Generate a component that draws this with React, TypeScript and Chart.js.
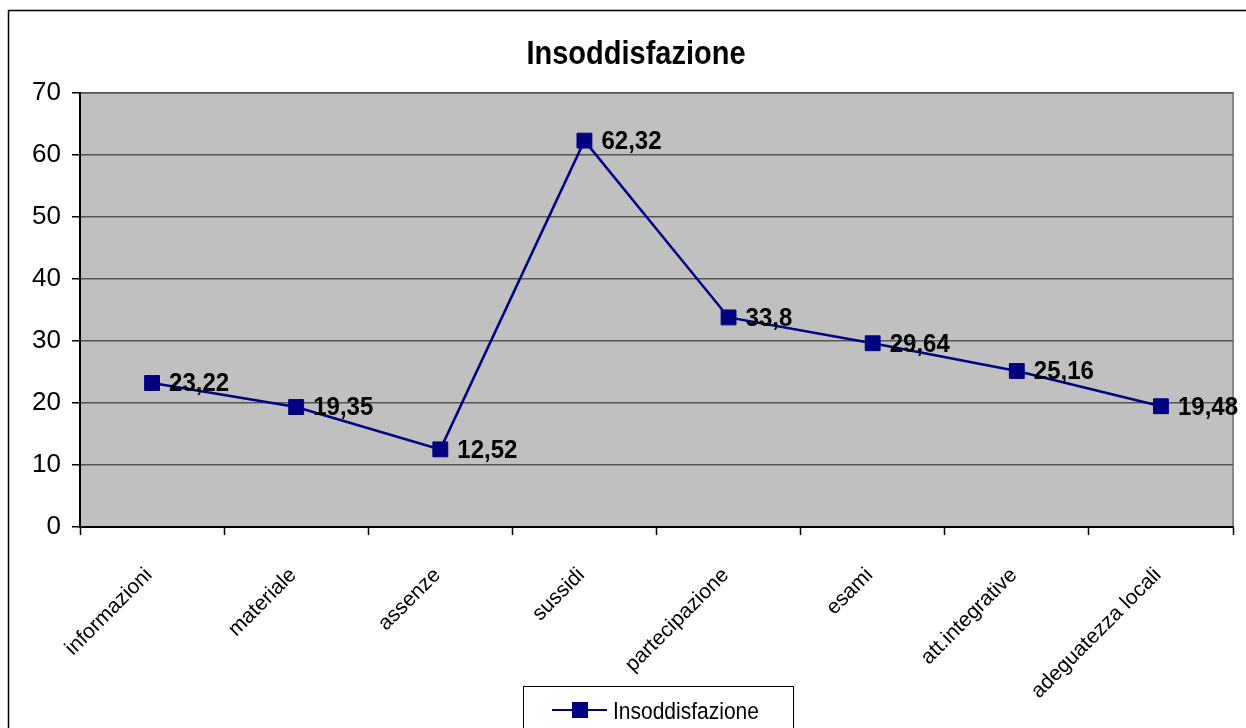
import React, { useEffect, useRef } from "react";
import { Chart, registerables } from "chart.js";

Chart.register(...registerables);

const TITLE = "Insoddisfazione";
const SERIES_LABEL = "Insoddisfazione";
const categories = [
  "informazioni",
  "materiale",
  "assenze",
  "sussidi",
  "partecipazione",
  "esami",
  "att.integrative",
  "adeguatezza locali",
];
const values = [23.22, 19.35, 12.52, 62.32, 33.8, 29.64, 25.16, 19.48];
const yTicks = [0, 10, 20, 30, 40, 50, 60, 70];

const FONT = "'Liberation Sans', Arial, sans-serif";
const NAVY = "#000080";

const W = 1246;
const H = 728;

export default function App() {
  const ref = useRef<HTMLCanvasElement | null>(null);

  useEffect(() => {
    const canvas = ref.current;
    if (!canvas) return;

    const bgPlugin = {
      id: "plotBg",
      beforeDraw(chart: any) {
        const { ctx, chartArea } = chart;
        ctx.save();
        ctx.fillStyle = "#ffffff";
        ctx.fillRect(0, 0, chart.width, chart.height);
        ctx.fillStyle = "#C0C0C0";
        ctx.fillRect(
          chartArea.left,
          chartArea.top,
          chartArea.right - chartArea.left,
          chartArea.bottom - chartArea.top
        );
        ctx.strokeStyle = "#888888";
        ctx.lineWidth = 2;
        ctx.beginPath();
        ctx.moveTo(chartArea.left, chartArea.top);
        ctx.lineTo(chartArea.right, chartArea.top);
        ctx.lineTo(chartArea.right, chartArea.bottom);
        ctx.stroke();
        ctx.restore();
      },
    };

    const decoPlugin = {
      id: "deco",
      afterDatasetsDraw(chart: any) {
        const { ctx } = chart;
        const meta = chart.getDatasetMeta(0);
        const data = chart.data.datasets[0].data as number[];
        ctx.save();
        ctx.fillStyle = "#000";
        ctx.textAlign = "left";
        ctx.textBaseline = "middle";
        meta.data.forEach((pt: any, i: number) => {
          const txt = String(data[i]).replace(".", ",");
          ctx.save();
          ctx.font = `bold 24px ${FONT}`;
          ctx.translate(pt.x + 17, pt.y + 1);
          ctx.scale(1, 1.1);
          ctx.fillText(txt, 0, 0);
          ctx.restore();
        });
        ctx.restore();
      },
      afterDraw(chart: any) {
        const { ctx } = chart;
        ctx.save();
        // outer border
        ctx.strokeStyle = "#000";
        ctx.lineWidth = 1.5;
        ctx.strokeRect(8.5, 10.5, W + 50, H + 50);
        // title
        ctx.fillStyle = "#000";
        ctx.font = `bold 29px ${FONT}`;
        ctx.textAlign = "center";
        ctx.textBaseline = "alphabetic";
        ctx.translate(636, 64);
        ctx.scale(1, 1.13);
        ctx.fillText(TITLE, 0, 0);
        ctx.restore();

        // legend
        const ds = chart.data.datasets[0];
        ctx.save();
        ctx.strokeStyle = "#000";
        ctx.lineWidth = 1;
        ctx.strokeRect(523.5, 686.5, 270, 60);
        ctx.strokeStyle = ds.borderColor;
        ctx.lineWidth = 2;
        ctx.beginPath();
        ctx.moveTo(552, 710);
        ctx.lineTo(607, 710);
        ctx.stroke();
        ctx.fillStyle = ds.pointBackgroundColor;
        ctx.fillRect(572, 702, 16, 16);
        ctx.fillStyle = "#000";
        ctx.font = `21px ${FONT}`;
        ctx.textAlign = "left";
        ctx.textBaseline = "alphabetic";
        ctx.translate(613, 719);
        ctx.scale(1, 1.12);
        ctx.fillText(ds.label, 0, 0);
        ctx.restore();
      },
    };

    const chart = new Chart(canvas, {
      type: "line",
      data: {
        labels: categories,
        datasets: [
          {
            label: SERIES_LABEL,
            data: values,
            borderColor: NAVY,
            backgroundColor: NAVY,
            borderWidth: 2.5,
            pointStyle: "rect",
            pointRadius: 10.5,
            pointBorderWidth: 1,
            pointBackgroundColor: NAVY,
            pointBorderColor: NAVY,
            tension: 0,
            fill: false,
          },
        ],
      },
      options: {
        responsive: false,
        animation: false,
        devicePixelRatio: 1,
        layout: { padding: { top: 93, right: 13, left: 0, bottom: 0 } },
        plugins: {
          legend: { display: false },
          title: { display: false },
          tooltip: { enabled: false },
        },
        scales: {
          x: {
            type: "category",
            offset: true,
            grid: {
              offset: true,
              drawOnChartArea: false,
              drawTicks: true,
              tickLength: 8,
              tickColor: "#000",
              tickWidth: 1.5,
            },
            border: { display: true, color: "#000", width: 2 },
            ticks: {
              autoSkip: false,
              minRotation: 45,
              maxRotation: 45,
              padding: 28,
              labelOffset: -3,
              color: "#000",
              font: { family: FONT, size: 21 },
            },
            afterFit(scale: any) {
              scale.height = H - 527;
            },
          },
          y: {
            min: 0,
            max: 70,
            afterBuildTicks(scale: any) {
              scale.ticks = yTicks.map((v) => ({ value: v }));
            },
            grid: {
              color: "#555555",
              lineWidth: 1.5,
              tickLength: 8,
              tickColor: "#000",
              tickWidth: 1.5,
            },
            border: { display: true, color: "#000", width: 2 },
            ticks: {
              padding: 11,
              color: "#000",
              font: { family: FONT, size: 26 },
            },
            afterFit(scale: any) {
              scale.width = 80;
            },
          },
        },
      },
      plugins: [bgPlugin, decoPlugin],
    } as any);

    return () => chart.destroy();
  }, []);

  return (
    <div style={{ position: "absolute", left: 0, top: 0, width: W, height: H }}>
      <canvas ref={ref} width={W} height={H} style={{ width: W, height: H, display: "block" }} />
    </div>
  );
}
